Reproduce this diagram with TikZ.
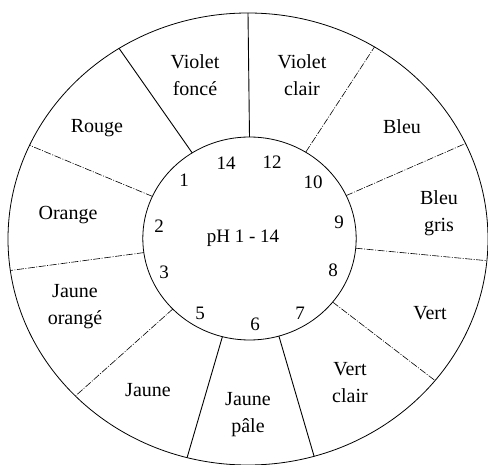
\documentclass[tikz,border=0pt]{standalone}
\usepackage{fontspec}
\setmainfont{Liberation Serif}
\usetikzlibrary{positioning}

\begin{document}
\begin{tikzpicture}[x=1pt, y=-1pt,
  rim/.style={line width=0.8pt},
  spoke/.style={line width=0.9pt},
  faint/.style={line width=0.6pt, dash pattern=on 7pt off 1.5pt on 1pt off 1.5pt},
  colour/.style={align=center, font=\fontsize{20}{27}\selectfont, inner sep=0pt},
  ph/.style={font=\fontsize{19}{22}\selectfont, inner sep=0pt},
  ]
  \useasboundingbox (0,0) rectangle (488,465);

  % the two rings
  \coordinate (oc) at (248,239);
  \coordinate (ic) at (249.5,238.5);
  \draw[rim] (oc) ellipse [x radius=240, y radius=226];
  \draw[rim] (ic) ellipse [x radius=106.7, y radius=101.5];

  % dividers between the colours
  \draw[spoke] (249.5,137) -- (248,13);
  \draw[spoke] (192.2,152.9) -- (119.1,48.4);
  \draw[faint] (152.4,196.4) -- (29.6,145.3);
  \draw[faint] (143.8,252.6) -- (10.3,270.5);
  \draw[faint] (172.8,309.0) -- (75.4,396.0);
  \draw[spoke] (222.4,336.7) -- (187.1,457.6);
  \draw[spoke] (278.9,336.1) -- (314.1,456.3);
  \draw[faint] (332.7,302.1) -- (435.1,380.6);
  \draw[faint] (355.7,248.2) -- (486.9,260.7);
  \draw[faint] (346.2,195.6) -- (465.5,143.5);
  \draw[faint] (305.7,152.2) -- (374.5,46.9);

  % colours
  \node[colour] (vfonce) at (195,75) {Violet\\foncé};
  \node[colour] (vclair) at (302,75) {Violet\\clair};
  \node[colour] (bleu) at (402,127) {Bleu};
  \node[colour] (bgris) at (439,213) {Bleu\\gris};
  \node[colour] (vert) at (430,313) {Vert};
  \node[colour] (vtclair) at (350,383) {Vert\\clair};
  \node[colour] (jpale) at (248,415) {Jaune\\pâle};
  \node[colour] (jaune) at (148,390) {Jaune};
  \node[colour] (jorange) at (75,307) {Jaune\\orangé};
  \node[colour] (orange) at (68,215) {Orange};
  \node[colour] (rouge) at (97,128) {Rouge};

  % pH scale
  \node[ph] (centre) at (243,238) {pH 1 - 14};
  \node[ph] (p14) at (226,163) {14};
  \node[ph] (p12) at (272,162) {12};
  \node[ph] (p1) at (184,180) {1};
  \node[ph] (p10) at (313,182) {10};
  \node[ph] (p2) at (159,226) {2};
  \node[ph] (p9) at (339,222) {9};
  \node[ph] (p3) at (164,272) {3};
  \node[ph] (p8) at (333,270) {8};
  \node[ph] (p5) at (200,313) {5};
  \node[ph] (p7) at (300,313) {7};
  \node[ph] (p6) at (255,324) {6};
\end{tikzpicture}
\end{document}
